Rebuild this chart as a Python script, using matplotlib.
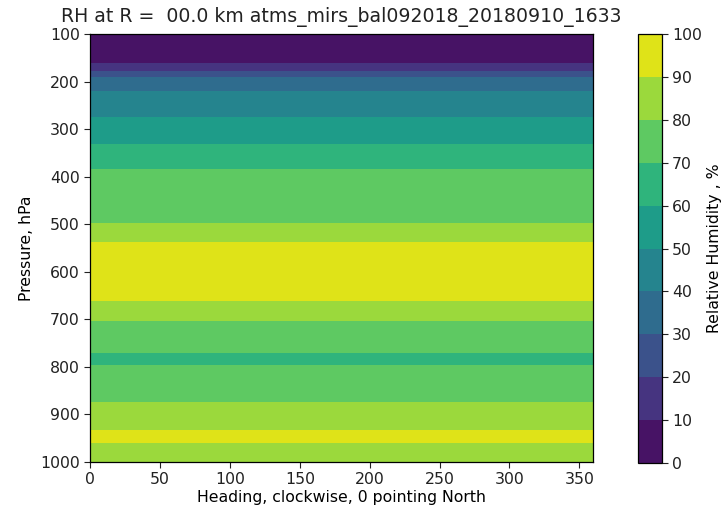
import matplotlib
matplotlib.use("Agg")
import matplotlib.pyplot as plt
import numpy as np

# RH profile (same at every heading)
pressure = [100, 150, 161, 177, 191, 219, 275, 332, 384, 498, 537, 600,
            661, 703, 771, 784, 796, 874, 933, 947, 961, 1000]
rh = [4, 7, 10, 20, 30, 40, 50, 60, 70, 80, 90, 96,
      90, 80, 70, 66, 70, 80, 90, 93, 90, 86]
headings = [0, 45, 90, 135, 180, 225, 270, 315, 360]
levels = [0, 10, 20, 30, 40, 50, 60, 70, 80, 90, 100]

plt.rcParams["font.size"] = 11.3
plt.rcParams["text.color"] = "#222222"
plt.rcParams["xtick.color"] = "#222222"
plt.rcParams["ytick.color"] = "#222222"
plt.rcParams["xtick.major.size"] = 4
plt.rcParams["ytick.major.size"] = 4
plt.rcParams["axes.linewidth"] = 0.9

hh, pp = np.meshgrid(headings, pressure)
z = np.tile(np.array(rh, dtype=float)[:, None], (1, len(headings)))

fig = plt.figure(figsize=(7.27, 5.11), dpi=100)
ax = fig.add_axes([0.124, 0.096, 0.692, 0.837])
cax = fig.add_axes([0.878, 0.094, 0.032, 0.839])

cs = ax.contourf(hh, pp, z, levels=levels, cmap="viridis")
ax.set_xlim(0, 360)
ax.set_ylim(1000, 100)
ax.set_xticks(range(0, 351, 50))
ax.set_yticks(range(100, 1001, 100))
ax.set_xlabel("Heading, clockwise, 0 pointing North", labelpad=2)
ax.set_ylabel("Pressure, hPa")
ax.set_title("RH at R =  00.0 km atms_mirs_bal092018_20180910_1633", pad=9)

cbar = fig.colorbar(cs, cax=cax)
cbar.set_ticks(levels)
cbar.set_label("Relative Humidity , %")

fig.savefig("out.png", dpi=100)
